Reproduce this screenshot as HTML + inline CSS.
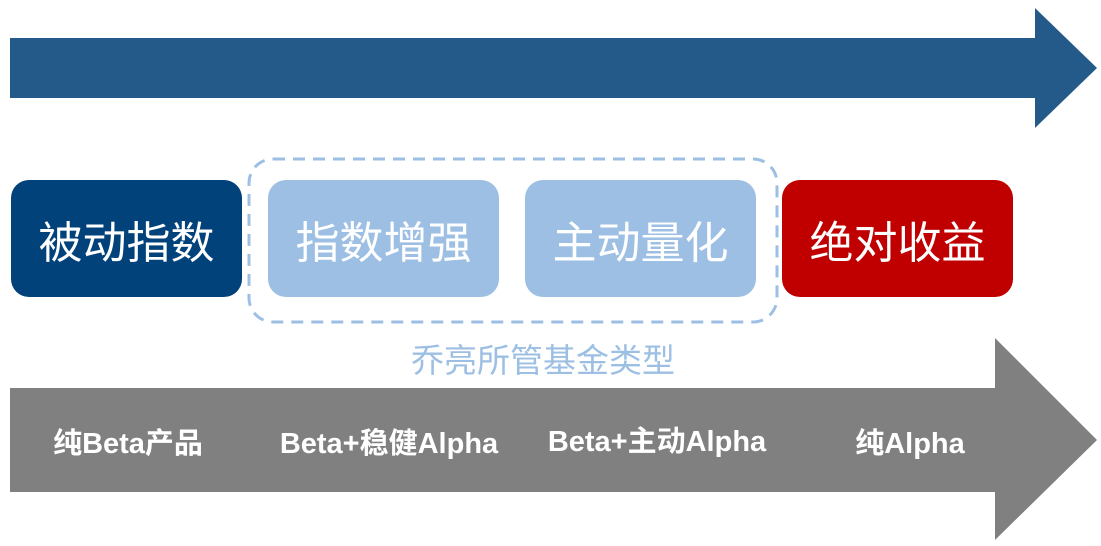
<!DOCTYPE html>
<html><head><meta charset="utf-8"><style>
body{margin:0;width:1101px;height:546px;background:#fff;overflow:hidden;position:relative;font-family:"Liberation Sans","Noto Sans CJK SC",sans-serif}
.b{position:absolute;top:180px;width:231px;height:117px;border-radius:18px;color:#fff;font-size:44px;display:flex;align-items:center;justify-content:center}
.t{position:absolute;top:420px;color:#fff;font-weight:bold;font-size:29px;white-space:nowrap;transform:translateX(-50%)}
</style></head><body>
<svg width="1101" height="546" style="position:absolute;left:0;top:0">
<polygon points="10,38 1035,38 1035,8 1097,68 1035,128 1035,98 10,98" fill="#245A8A"/>
<polygon points="10,388 995,388 995,338 1097,440 995,540 995,492 10,492" fill="#808080"/>
<rect x="249" y="159" width="528" height="163" rx="24" fill="none" stroke="#9DBFE4" stroke-width="3" stroke-dasharray="12,8"/>
</svg>
<div class="b" style="left:11px;background:#02427A">被动指数</div>
<div class="b" style="left:268px;background:#9DBFE4">指数增强</div>
<div class="b" style="left:525px;background:#9DBFE4">主动量化</div>
<div class="b" style="left:782px;background:#C00000">绝对收益</div>
<div style="position:absolute;left:543px;top:334px;transform:translateX(-50%);color:#9DBFE4;font-size:33px;white-space:nowrap">乔亮所管基金类型</div>
<div class="t" style="left:128px">纯Beta产品</div>
<div class="t" style="left:389px">Beta+稳健Alpha</div>
<div class="t" style="left:657px;top:418px">Beta+主动Alpha</div>
<div class="t" style="left:910px">纯Alpha</div>
</body></html>
